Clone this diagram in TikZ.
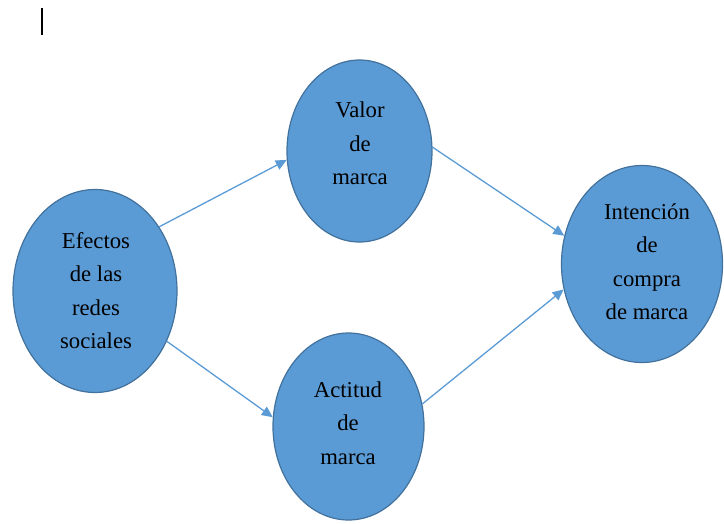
\documentclass[tikz,border=0pt]{standalone}
\usepackage{fontspec}
\setmainfont{Liberation Serif}
\usetikzlibrary{shapes.geometric,arrows.meta}
\definecolor{bubblefill}{HTML}{5B9BD5}
\definecolor{bubbleedge}{HTML}{41719C}
\definecolor{linkblue}{HTML}{5B9BD5}
\tikzset{
  bubble/.style={ellipse, draw=bubbleedge, fill=bubblefill, line width=1.2pt, inner sep=0pt},
  caption/.style={align=center, inner sep=0pt, font=\fontsize{22.7pt}{33.5pt}\selectfont},
  link/.style={draw=linkblue, line width=1.3pt, -{Triangle[length=11pt,width=10pt]}}
}
\begin{document}
\begin{tikzpicture}[x=1pt,y=-1pt]
  \useasboundingbox (0,0) rectangle (724,523);
  % text cursor mark at top left
  \draw[line width=1.4pt] (42,8) -- (42,35);

  % bubbles
  \node[bubble, minimum width=164pt, minimum height=203pt] (efectos) at (95,291) {};
  \node[bubble, minimum width=145pt, minimum height=182pt] (valor) at (359.5,151) {};
  \node[bubble, minimum width=151pt, minimum height=187pt] (actitud) at (348.5,426.5) {};
  \node[bubble, minimum width=161pt, minimum height=197pt] (intencion) at (642,264) {};

  % captions
  \node[caption] (efectos-t) at (96,290.5) {Efectos\\de las\\redes\\sociales};
  \node[caption] (valor-t) at (360,143.5) {Valor\\de\\marca};
  \node[caption] (actitud-t) at (348,423) {Actitud\\de\\marca};
  \node[caption] (intencion-t) at (647,261.5) {Intención\\de\\compra\\de marca};

  % connectors
  \draw[link] (efectos.45) -- (valor.187);
  \draw[link] (valor.3) -- (intencion.160);
  \draw[link] (efectos.-35) -- (actitud.173);
  \draw[link] (actitud.17) -- (intencion.198);
\end{tikzpicture}
\end{document}
